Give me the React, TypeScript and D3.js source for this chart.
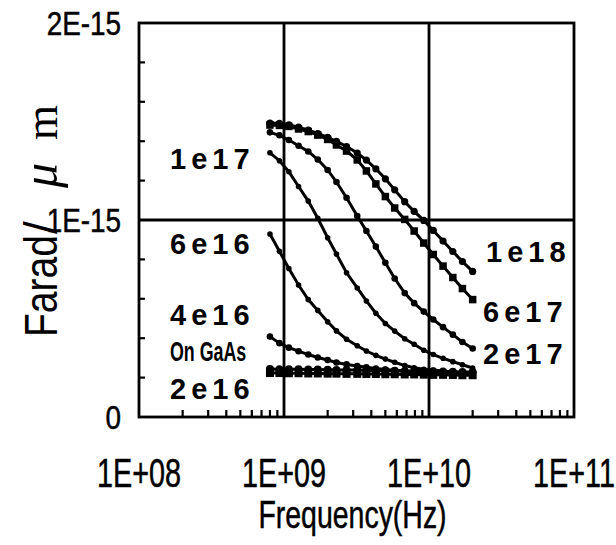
import React from "react";
import * as d3 from "d3";

// Frequency sweep (GHz) shared by every curve
const FREQ_GHZ = [
  0.8, 0.93, 1.08, 1.26, 1.47, 1.71, 2.0, 2.3, 2.7, 3.2, 3.7, 4.3, 5.0, 5.8,
  6.8, 7.9, 9.2, 10.7, 12.5, 14.6, 17, 20,
];

// Capacitance per unit length, in units of 1E-15 F/um
const C_1E18 = [
  1.492, 1.49, 1.483, 1.471, 1.456, 1.439, 1.42, 1.399, 1.373, 1.34, 1.304,
  1.26, 1.209, 1.153, 1.093, 1.044, 0.998, 0.947, 0.893, 0.84, 0.789, 0.739,
];
const C_6E17 = [
  1.482, 1.48, 1.475, 1.462, 1.449, 1.431, 1.409, 1.381, 1.35, 1.305, 1.249,
  1.183, 1.119, 1.061, 1.003, 0.944, 0.883, 0.825, 0.766, 0.708, 0.652, 0.596,
];
const C_2E17 = [
  1.445, 1.43, 1.406, 1.377, 1.348, 1.307, 1.254, 1.193, 1.113, 1.02, 0.944,
  0.865, 0.783, 0.703, 0.629, 0.578, 0.535, 0.495, 0.456, 0.418, 0.381, 0.348,
];
const C_1E17 = [
  1.341, 1.301, 1.245, 1.17, 1.096, 1.009, 0.91, 0.827, 0.732, 0.655, 0.589,
  0.527, 0.475, 0.436, 0.397, 0.369, 0.339, 0.317, 0.298, 0.281, 0.265, 0.249,
];
const C_6E16 = [
  0.929, 0.841, 0.754, 0.67, 0.596, 0.541, 0.483, 0.437, 0.395, 0.362, 0.335,
  0.313, 0.294, 0.278, 0.261, 0.25, 0.242, 0.237, 0.233, 0.229, 0.225, 0.222,
];
const C_4E16 = [
  0.408, 0.375, 0.352, 0.334, 0.317, 0.302, 0.289, 0.277, 0.267, 0.259, 0.252,
  0.246, 0.241, 0.237, 0.233, 0.229, 0.226, 0.223, 0.221, 0.219, 0.217, 0.216,
];
const C_GAAS = [
  0.244, 0.243, 0.243, 0.242, 0.241, 0.241, 0.24, 0.239, 0.239, 0.238, 0.237,
  0.236, 0.236, 0.235, 0.234, 0.233, 0.233, 0.232, 0.231, 0.23, 0.229, 0.229,
];
const C_2E16 = [
  0.223, 0.223, 0.222, 0.222, 0.221, 0.221, 0.22, 0.22, 0.219, 0.219, 0.218,
  0.218, 0.217, 0.217, 0.216, 0.216, 0.215, 0.214, 0.214, 0.213, 0.212, 0.212,
];

// Axis tick labels
const X_TICK_VALUES = [1e8, 1e9, 1e10, 1e11];
const X_TICK_LABELS = ["1E+08", "1E+09", "1E+10", "1E+11"];
const Y_TICK_VALUES = [0, 1, 2];
const Y_TICK_LABELS = ["0", "1E-15", "2E-15"];

type Marker = "circle" | "square";
const SERIES: { key: string; values: number[]; marker: Marker; size: number }[] = [
  { key: "2e16", values: C_2E16, marker: "square", size: 8 },
  { key: "gaas", values: C_GAAS, marker: "circle", size: 4 },
  { key: "4e16", values: C_4E16, marker: "circle", size: 3.3 },
  { key: "6e16", values: C_6E16, marker: "circle", size: 2.8 },
  { key: "1e17", values: C_1E17, marker: "circle", size: 2.8 },
  { key: "2e17", values: C_2E17, marker: "circle", size: 3.3 },
  { key: "6e17", values: C_6E17, marker: "square", size: 7.5 },
  { key: "1e18", values: C_1E18, marker: "circle", size: 3.6 },
];

// Curve annotations placed beside the line ends
const CURVE_LABELS = [
  { text: "1e17", x: 170, y: 169 },
  { text: "6e16", x: 170, y: 254 },
  { text: "4e16", x: 170, y: 325 },
  { text: "2e16", x: 170, y: 399 },
  { text: "1e18", x: 486, y: 262 },
  { text: "6e17", x: 483, y: 322 },
  { text: "2e17", x: 483, y: 364 },
];

const W = 616;
const H = 545;
const M = { left: 139, right: 574, top: 23, bottom: 417 };

export default function App() {
  const x = d3.scaleLog().domain([1e8, 1e11]).range([M.left, M.right]);
  const y = d3.scaleLinear().domain([0, 2]).range([M.bottom, M.top]);
  const freqs = FREQ_GHZ.map((g) => g * 1e9);

  const line = d3
    .line<number>()
    .x((_, i) => x(freqs[i]))
    .y((v) => y(v));

  const minorX = x
    .ticks()
    .filter((t) => Math.abs(Math.log10(t) - Math.round(Math.log10(t))) > 1e-6);
  const minorY = d3.range(1, 10).map((k) => k * 0.2).filter((v) => Math.abs(v - 1) > 1e-6);

  const sans = "'Liberation Sans', Arial, sans-serif";
  const serif = "'Liberation Serif', 'DejaVu Serif', serif";
  const titleX = 57;

  return (
    <svg
      width={W}
      height={H}
      style={{ position: "absolute", left: 0, top: 0, background: "#fff" }}
    >
      <rect x={0} y={0} width={W} height={H} fill="#fff" />

      {/* grid lines at the decades and at 1E-15 */}
      {[1e9, 1e10].map((t) => (
        <line key={t} x1={x(t)} x2={x(t)} y1={M.top} y2={M.bottom} stroke="#000" strokeWidth={2.8} />
      ))}
      <line x1={M.left} x2={M.right} y1={y(1)} y2={y(1)} stroke="#000" strokeWidth={2.8} />

      {/* minor ticks */}
      {minorX.map((t) => (
        <line key={"mx" + t} x1={x(t)} x2={x(t)} y1={M.bottom} y2={M.bottom - 7} stroke="#000" strokeWidth={2.2} />
      ))}
      {minorY.map((v) => (
        <line key={"my" + v} x1={M.left} x2={M.left + 6} y1={y(v)} y2={y(v)} stroke="#000" strokeWidth={2.2} />
      ))}

      {/* plot frame */}
      <rect
        x={M.left}
        y={M.top}
        width={M.right - M.left}
        height={M.bottom - M.top}
        fill="none"
        stroke="#000"
        strokeWidth={2.8}
      />

      {/* curves */}
      {SERIES.map((s) => (
        <g key={s.key}>
          <path d={line(s.values) || ""} fill="none" stroke="#000" strokeWidth={3} />
          {s.values.map((v, i) =>
            s.marker === "circle" ? (
              <circle key={i} cx={x(freqs[i])} cy={y(v)} r={s.size} fill="#000" />
            ) : (
              <rect
                key={i}
                x={x(freqs[i]) - s.size / 2}
                y={y(v) - s.size / 2}
                width={s.size}
                height={s.size}
                fill="#000"
              />
            )
          )}
        </g>
      ))}

      {/* curve labels */}
      {CURVE_LABELS.map((l) => (
        <text
          key={l.text}
          x={l.x}
          y={l.y}
          fontFamily={sans}
          fontSize={29}
          fontWeight="bold"
          letterSpacing={5}
          fill="#000"
        >
          {l.text}
        </text>
      ))}
      <text
        transform="translate(170,361) scale(0.66,1)"
        fontFamily={sans}
        fontSize={27}
        fontWeight="bold"
        fill="#000"
      >
        On GaAs
      </text>

      {/* y tick labels */}
      {Y_TICK_VALUES.map((v, i) => (
        <text
          key={"yt" + v}
          transform={`translate(121,${y(v) + 12}) scale(0.82,1)`}
          textAnchor="end"
          fontFamily={sans}
          fontSize={34}
          stroke="#000"
          strokeWidth={0.5}
          fill="#000"
        >
          {Y_TICK_LABELS[i]}
        </text>
      ))}

      {/* x tick labels */}
      {X_TICK_VALUES.map((v, i) => (
        <text
          key={"xt" + v}
          transform={`translate(${x(v)},487) scale(0.72,1)`}
          textAnchor="middle"
          fontFamily={sans}
          fontSize={40}
          stroke="#000"
          strokeWidth={0.5}
          fill="#000"
        >
          {X_TICK_LABELS[i]}
        </text>
      ))}

      {/* axis titles */}
      <text
        transform={`translate(${(M.left + M.right) / 2 - 4},528) scale(0.73,1)`}
        textAnchor="middle"
        fontFamily={sans}
        fontSize={39}
        stroke="#000"
        strokeWidth={0.5}
        fill="#000"
      >
        Frequency(Hz)
      </text>
      <g fontSize={46} fill="#000">
        <text
          transform={`translate(${titleX},337) rotate(-90)`}
          fontFamily={sans}
          textLength={102}
          lengthAdjust="spacingAndGlyphs"
        >
          Farad
        </text>
        <text transform={`translate(${titleX},234) rotate(-90)`} fontFamily={sans}>
          /
        </text>
        <text
          transform={`translate(${titleX},188) rotate(-90)`}
          fontFamily={serif}
          fontStyle="italic"
          fontSize={50}
        >
          μ
        </text>
        <text
          transform={`translate(${titleX},140) rotate(-90)`}
          fontFamily={serif}
          textLength={35}
          lengthAdjust="spacingAndGlyphs"
        >
          m
        </text>
      </g>
    </svg>
  );
}
